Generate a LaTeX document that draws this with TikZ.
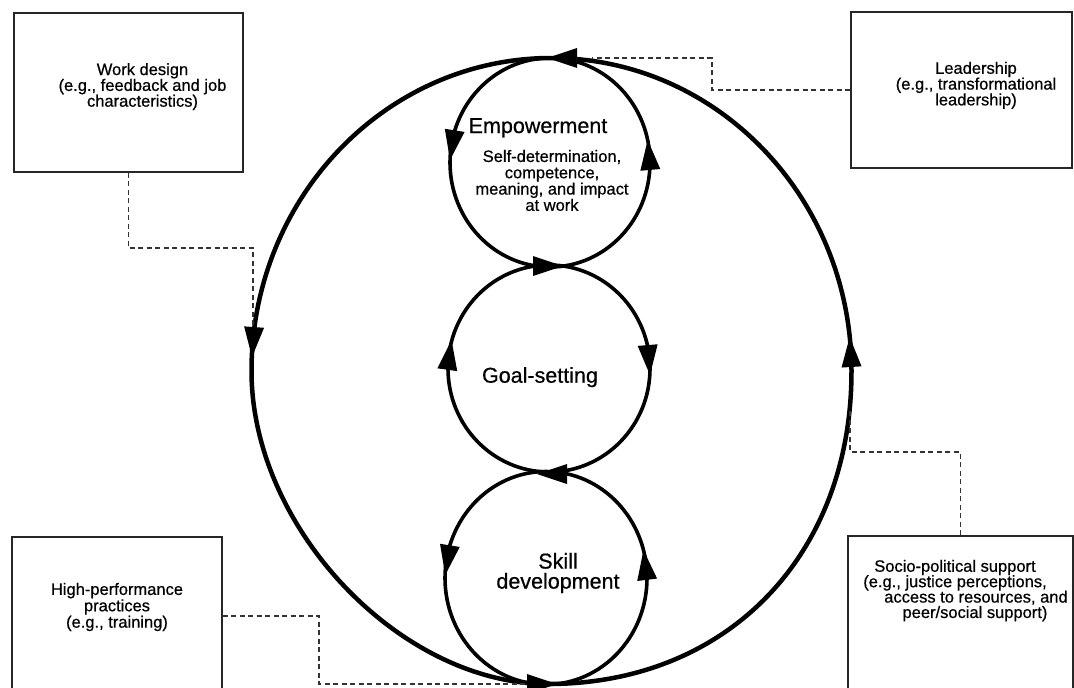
\documentclass[tikz,border=0pt]{standalone}
\usepackage{fontspec}
\setmainfont{Liberation Sans}[FakeBold=0.6]
\usetikzlibrary{shapes.geometric}
\newcommand\tipat[2]{\fill[shift={#1},rotate=-#2] (0,0) -- (-30,10) -- (-30,-10) -- cycle;}
\begin{document}
\begin{tikzpicture}[x=1pt,y=-1pt,
  box/.style={draw=black!85, line width=1.4pt, inner sep=0pt, rectangle},
  lbl/.style={align=center, inner sep=0pt, font=\fontsize{16.5}{15.8}\selectfont},
  biglbl/.style={inner sep=0pt, font=\fontsize{21.5}{20}\selectfont},
  conn/.style={draw=black!80, line width=1.4pt, dash pattern=on 5pt off 3.5pt},
  loopnode/.style={draw, ellipse, inner sep=0pt, line width=3.6pt},
  outer/.style={line width=4.5pt}]
\clip (0,0) rectangle (1074,688);
\fill[white] (0,0) rectangle (1074,688);

% outer cycle
\coordinate (T) at (551.5,58);
\coordinate (R) at (851.5,371);
\coordinate (B) at (548,684);
\coordinate (L) at (251.5,371);
\draw[outer] (T) .. controls (717.2,58) and (851.5,198.1) .. (R)
  .. controls (851.5,555.7) and (727,684) .. (B)
  .. controls (400,684) and (251.5,527.5) .. (L)
  .. controls (251.5,198.1) and (385.8,58) .. (T);

% inner loops
\node[loopnode, minimum width=200pt, minimum height=209pt] (emp) at (550,162.5) {};
\node[loopnode, minimum width=202pt, minimum height=207pt] (goal) at (549,368.5) {};
\node[loopnode, minimum width=202pt, minimum height=213pt] (skill) at (546,578) {};

% arrowheads
\tipat{(547,58)}{180}
\tipat{(252,357)}{94}
\tipat{(557,684)}{0}
\tipat{(849.7,337)}{266.5}
\tipat{(450,160)}{99}
\tipat{(647.7,140)}{265}
\tipat{(563,266)}{0}
\tipat{(650,375)}{85.5}
\tipat{(451.5,340)}{278}
\tipat{(537,474)}{180}
\tipat{(445.2,575)}{99}
\tipat{(643.5,550)}{263}

% loop labels
\node[biglbl, anchor=base] (empt) at (538,133) {Empowerment};
\node[lbl, font=\fontsize{16.5}{16.3}\selectfont] (emps) at (552,180.5) {Self-determination,\\competence,\\meaning, and impact\\at work};
\node[biglbl, anchor=base] (goalt) at (540,382.7) {Goal-setting};
\node[biglbl, align=center] (skillt) at (558,573) {Skill\\development};

% boxes
\node[box, minimum width=229pt, minimum height=159pt] (wd) at (128.5,92.5) {};
\node[box, minimum width=221pt, minimum height=156pt] (ld) at (961.5,90) {};
\node[box, minimum width=210pt, minimum height=158pt] (hp) at (117,616) {};
\node[box, minimum width=225pt, minimum height=164pt] (sp) at (960.5,618) {};

\node[lbl] (wdt) at (142.5,86.6) {Work design\\(e.g., feedback and job\\characteristics)};
\node[lbl] (ldt) at (976,85.3) {Leadership\\(e.g., transformational\\leadership)};
\node[lbl, font=\fontsize{16.5}{13}\selectfont] (hpt) at (117,607) {High-performance\\practices\\(e.g., training)};
\node[lbl, font=\fontsize{16.5}{15.4}\selectfont] (spt) at (955,590.6) {Socio-political support\\(e.g., justice perceptions,\\\hspace*{42pt}access to resources, and\\\hspace*{40pt}peer/social support)};

% connection points on the outer cycle
\coordinate (wdE) at (253,325);
\coordinate (ldE) at (592,58);
\coordinate (spE) at (850,410);
\coordinate (hpE) at (528,684);

% dashed connectors
\draw[conn] (wd.south) -- (128.5,248) -| (wdE);
\draw[conn] (ld.west) -- (712,90) |- (ldE);
\draw[conn] (sp.north) -- (960.5,452) -| (spE);
\draw[conn] (hp.east) -- (319,616) |- (hpE);
\end{tikzpicture}
\end{document}
